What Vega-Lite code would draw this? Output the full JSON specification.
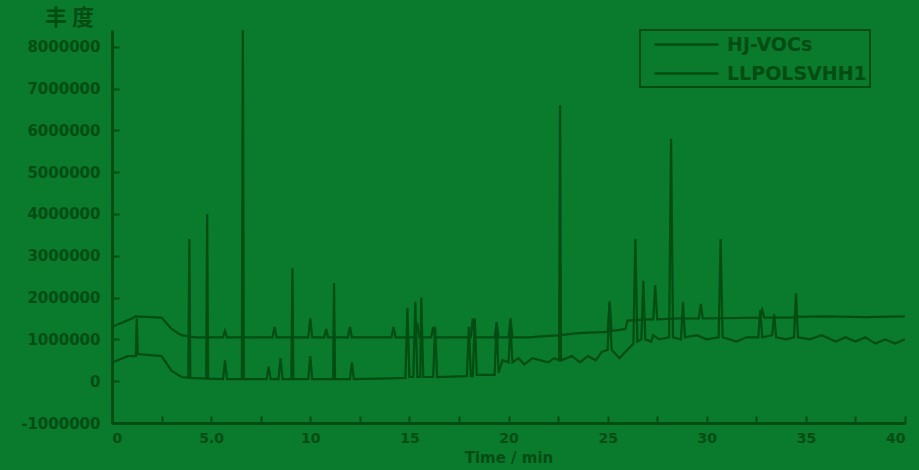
{
  "$schema": "https://vega.github.io/schema/vega-lite/v6.json",
  "width": 793,
  "height": 393,
  "autosize": {"type": "none"},
  "padding": {"left": 112, "top": 30, "right": 14, "bottom": 47},
  "background": "#0a7a2c",
  "config": {
    "view": {"stroke": null},
    "font": "DejaVu Sans",
    "legend": {"strokeWidth": 2}
  },
  "datasets": {
    "a": [
      {"t":0,"v":1300000},{"t":0.5,"v":1400000},{"t":1.0,"v":1500000},{"t":1.2,"v":1550000},{"t":2.5,"v":1520000},{"t":3.0,"v":1250000},{"t":3.5,"v":1100000},{"t":4.2,"v":1050000},
      {"t":5.6,"v":1050000},{"t":5.7,"v":1200000},{"t":5.8,"v":1050000},
      {"t":8.1,"v":1050000},{"t":8.2,"v":1300000},{"t":8.3,"v":1050000},
      {"t":9.9,"v":1050000},{"t":10.0,"v":1500000},{"t":10.1,"v":1050000},
      {"t":10.7,"v":1050000},{"t":10.8,"v":1250000},{"t":10.9,"v":1050000},
      {"t":11.9,"v":1050000},{"t":12.0,"v":1300000},{"t":12.1,"v":1050000},
      {"t":14.1,"v":1050000},{"t":14.2,"v":1300000},{"t":14.3,"v":1050000},
      {"t":15.3,"v":1050000},{"t":15.4,"v":1400000},{"t":15.5,"v":1050000},
      {"t":16.1,"v":1050000},{"t":16.2,"v":1300000},{"t":16.3,"v":1050000},
      {"t":18.1,"v":1050000},{"t":18.2,"v":1500000},{"t":18.3,"v":1050000},
      {"t":19.3,"v":1050000},{"t":19.4,"v":1400000},{"t":19.5,"v":1050000},
      {"t":20.0,"v":1050000},{"t":20.1,"v":1500000},{"t":20.2,"v":1050000},
      {"t":21.0,"v":1050000},{"t":22.6,"v":1100000},{"t":23.5,"v":1150000},{"t":25.0,"v":1180000},
      {"t":25.1,"v":1900000},{"t":25.2,"v":1200000},{"t":25.9,"v":1250000},{"t":26.0,"v":1450000},{"t":27.0,"v":1480000},{"t":27.3,"v":1480000},{"t":27.4,"v":2300000},{"t":27.5,"v":1480000},{"t":28.5,"v":1500000},{"t":29.6,"v":1500000},{"t":29.7,"v":1850000},{"t":29.8,"v":1500000},{"t":32.7,"v":1520000},{"t":32.8,"v":1700000},{"t":32.9,"v":1520000},{"t":34.4,"v":1520000},{"t":34.5,"v":1650000},{"t":34.6,"v":1540000},{"t":36,"v":1550000},{"t":38,"v":1530000},{"t":40,"v":1550000}
    ],
    "b": [
      {"t":0,"v":450000},{"t":0.8,"v":600000},{"t":1.2,"v":600000},{"t":1.25,"v":1500000},{"t":1.3,"v":650000},{"t":2.5,"v":600000},{"t":3.0,"v":250000},{"t":3.5,"v":100000},{"t":3.85,"v":80000},{"t":3.9,"v":3400000},{"t":3.95,"v":80000},{"t":4.75,"v":60000},{"t":4.8,"v":4000000},{"t":4.85,"v":60000},{"t":5.6,"v":50000},{"t":5.7,"v":500000},{"t":5.8,"v":50000},{"t":6.55,"v":50000},{"t":6.6,"v":8400000},{"t":6.65,"v":50000},{"t":7.8,"v":50000},{"t":7.9,"v":350000},{"t":8.0,"v":50000},{"t":8.4,"v":50000},{"t":8.5,"v":550000},{"t":8.6,"v":50000},{"t":9.05,"v":50000},{"t":9.1,"v":2700000},{"t":9.15,"v":50000},{"t":9.9,"v":50000},{"t":10.0,"v":600000},{"t":10.1,"v":50000},{"t":11.15,"v":50000},{"t":11.2,"v":2350000},{"t":11.25,"v":50000},{"t":12.0,"v":50000},{"t":12.1,"v":450000},{"t":12.2,"v":50000},{"t":13.5,"v":60000},{"t":14.8,"v":80000},{"t":14.9,"v":1750000},{"t":15.0,"v":100000},{"t":15.2,"v":100000},{"t":15.3,"v":1900000},{"t":15.4,"v":100000},{"t":15.55,"v":100000},{"t":15.6,"v":2000000},{"t":15.7,"v":100000},{"t":16.2,"v":100000},{"t":16.3,"v":1300000},{"t":16.4,"v":100000},{"t":17.9,"v":120000},{"t":18.0,"v":1300000},{"t":18.1,"v":120000},{"t":18.2,"v":120000},{"t":18.3,"v":1500000},{"t":18.4,"v":150000},{"t":19.3,"v":150000},{"t":19.4,"v":1400000},{"t":19.5,"v":200000},{"t":19.7,"v":500000},{"t":20.0,"v":450000},{"t":20.1,"v":1300000},{"t":20.2,"v":450000},{"t":20.5,"v":550000},{"t":20.8,"v":400000},{"t":21.2,"v":550000},{"t":21.6,"v":500000},{"t":22.0,"v":450000},{"t":22.3,"v":550000},{"t":22.55,"v":500000},{"t":22.6,"v":6600000},{"t":22.65,"v":500000},{"t":23.2,"v":600000},{"t":23.6,"v":450000},{"t":24.0,"v":600000},{"t":24.4,"v":500000},{"t":24.7,"v":700000},{"t":25.0,"v":750000},{"t":25.1,"v":1900000},{"t":25.2,"v":750000},{"t":25.6,"v":550000},{"t":26.0,"v":750000},{"t":26.3,"v":900000},{"t":26.4,"v":3400000},{"t":26.5,"v":950000},{"t":26.7,"v":1000000},{"t":26.8,"v":2400000},{"t":26.9,"v":1000000},{"t":27.2,"v":950000},{"t":27.3,"v":1100000},{"t":27.6,"v":1000000},{"t":28.1,"v":1050000},{"t":28.2,"v":5800000},{"t":28.3,"v":1050000},{"t":28.7,"v":1000000},{"t":28.8,"v":1900000},{"t":28.9,"v":1050000},{"t":29.5,"v":1100000},{"t":30.0,"v":1000000},{"t":30.6,"v":1050000},{"t":30.7,"v":3400000},{"t":30.8,"v":1050000},{"t":31.5,"v":950000},{"t":32.0,"v":1050000},{"t":32.6,"v":1050000},{"t":32.7,"v":1700000},{"t":32.8,"v":1050000},{"t":33.3,"v":1100000},{"t":33.4,"v":1600000},{"t":33.5,"v":1050000},{"t":34.0,"v":1000000},{"t":34.4,"v":1050000},{"t":34.5,"v":2100000},{"t":34.6,"v":1050000},{"t":35.2,"v":1000000},{"t":35.8,"v":1100000},{"t":36.5,"v":950000},{"t":37.0,"v":1050000},{"t":37.5,"v":950000},{"t":38.0,"v":1050000},{"t":38.5,"v":900000},{"t":39.0,"v":1000000},{"t":39.5,"v":900000},{"t":40.0,"v":1000000}
    ]
  },
  "layer": [
    {
      "data": {"name": "a"},
      "transform": [{"calculate": "'HJ-VOCs'", "as": "s"}],
      "mark": {"type": "line", "strokeWidth": 2.2, "clip": true},
      "encoding": {
        "x": {"field": "t", "type": "quantitative"},
        "y": {"field": "v", "type": "quantitative"},
        "color": {"field": "s", "type": "nominal"}
      }
    },
    {
      "data": {"name": "b"},
      "transform": [{"calculate": "'LLPOLSVHH1'", "as": "s"}],
      "mark": {"type": "line", "strokeWidth": 2.2, "clip": true},
      "encoding": {
        "x": {
          "field": "t", "type": "quantitative",
          "scale": {"domain": [0, 40], "nice": false},
          "axis": {
            "values": [0,2.5,5,7.5,10,12.5,15,17.5,20,22.5,25,27.5,30,32.5,35,37.5,40],
            "labelExpr": "datum.value % 5 !== 0 ? '' : (datum.value === 5 ? '5.0' : format(datum.value, 'd'))",
            "tickSize": -7,
            "tickColor": "#034d13", "tickWidth": 2,
            "domainColor": "#034d13", "domainWidth": 3,
            "grid": false,
            "labelColor": "#034d13", "labelFont": "DejaVu Sans", "labelFontWeight": "bold", "labelFontSize": 14,
            "labelPadding": 15,
            "title": "Time / min",
            "titleColor": "#034d13", "titleFont": "DejaVu Sans", "titleFontWeight": "bold", "titleFontSize": 15,
            "titleY": 34, "titleBaseline": "middle"
          }
        },
        "y": {
          "field": "v", "type": "quantitative",
          "scale": {"domain": [-1000000, 8400000], "nice": false, "zero": false},
          "axis": {
            "values": [-1000000,-500000,0,500000,1000000,1500000,2000000,2500000,3000000,3500000,4000000,4500000,5000000,5500000,6000000,6500000,7000000,7500000,8000000],
            "labelExpr": "datum.value % 1000000 !== 0 ? '' : replace(format(datum.value, 'd'), '−', '-')",
            "tickSize": -7,
            "tickColor": "#034d13", "tickWidth": 2,
            "domainColor": "#034d13", "domainWidth": 3,
            "grid": false,
            "labelColor": "#034d13", "labelFont": "DejaVu Sans", "labelFontWeight": "bold", "labelFontSize": 15,
            "labelPadding": 19,
            "title": "丰 度",
            "titleAngle": 0,
            "titleX": -43, "titleY": -13,
            "titleAlign": "center", "titleBaseline": "middle",
            "titleColor": "#034d13", "titleFont": "Noto Sans CJK SC", "titleFontWeight": "bold", "titleFontSize": 22
          }
        },
        "color": {
          "field": "s", "type": "nominal",
          "scale": {"domain": ["HJ-VOCs", "LLPOLSVHH1"], "range": ["#034d13", "#034d13"]},
          "legend": {
            "title": null,
            "orient": "none",
            "legendX": 528,
            "legendY": 0,
            "direction": "vertical",
            "symbolType": "M-3.2,0L3.2,0",
            "symbolSize": 400,
            "symbolOffset": 32,
            "symbolStrokeWidth": 2.5,
            "symbolStrokeColor": "#034d13",
            "labelColor": "#034d13", "labelFont": "DejaVu Sans", "labelFontWeight": "bold", "labelFontSize": 19,
            "labelOffset": 29,
            "rowPadding": 7,
            "padding": 3,
            "strokeColor": "#034d13"
          }
        }
      }
    }
  ]
}
